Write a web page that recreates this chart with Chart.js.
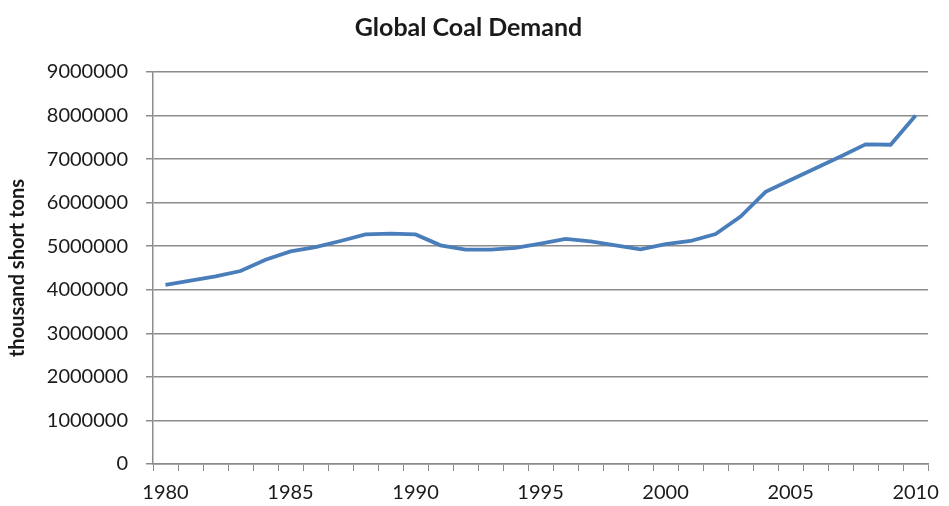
<!DOCTYPE html>
<html>
<head>
<meta charset="utf-8">
<script src="https://cdn.jsdelivr.net/npm/chart.js@4.4.0/dist/chart.umd.min.js"></script>
<style>
  html, body { margin: 0; padding: 0; background: #fff; }
  #wrap { width: 949px; height: 506px; }
</style>
</head>
<body>
<div id="wrap"><canvas id="coalChart"></canvas></div>
<script>
const years = [
  1980, 1981, 1982, 1983, 1984, 1985, 1986, 1987, 1988, 1989,
  1990, 1991, 1992, 1993, 1994, 1995, 1996, 1997, 1998, 1999,
  2000, 2001, 2002, 2003, 2004, 2005, 2006, 2007, 2008, 2009, 2010
];

// thousand short tons
const demand = [
  4110000, 4210000, 4310000, 4430000, 4690000, 4880000, 4980000, 5120000, 5270000, 5290000,
  5270000, 5020000, 4920000, 4920000, 4960000, 5060000, 5170000, 5110000, 5020000, 4930000,
  5050000, 5120000, 5280000, 5680000, 6250000, 6520000, 6790000, 7060000, 7340000, 7330000, 8000000
];

const yTicks = [0, 1000000, 2000000, 3000000, 4000000, 5000000, 6000000, 7000000, 8000000, 9000000];

const ctx = document.getElementById('coalChart').getContext('2d');

Chart.defaults.font.family = "Lato";
Chart.defaults.color = '#1a1a1a';

const coalChart = new Chart(ctx, {
  type: 'line',
  data: {
    labels: years,
    datasets: [{
      label: 'Global Coal Demand',
      data: demand,
      borderColor: '#4A7EBB',
      borderWidth: 3.8,
      fill: false,
      radius: 0,
      tension: 0
    }]
  },
  options: {
    responsive: true,
    maintainAspectRatio: false,
    animation: false,
    layout: {
      padding: { left: 0, right: 12, top: 0, bottom: 0 }
    },
    plugins: {
      legend: { display: false },
      tooltip: { enabled: false },
      title: {
        display: true,
        text: 'Global Coal Demand',
        color: '#1a1a1a',
        font: { size: 25, weight: 'bold' },
        padding: { top: 13, bottom: 29 }
      }
    },
    scales: {
      x: {
        type: 'category',
        offset: true,
        grid: {
          offset: true,
          drawOnChartArea: false,
          drawTicks: true,
          tickLength: 7,
          color: '#8c8c8c'
        },
        border: { color: '#8c8c8c', width: 1.5 },
        ticks: {
          autoSkip: false,
          maxRotation: 0,
          minRotation: 0,
          padding: 10,
          font: { size: 20 },
          callback: function (val, i) {
            return i % 5 === 0 ? String(years[i]) : '';
          }
        },
        afterFit: function (scale) { scale.height = 42; }
      },
      y: {
        min: 0,
        max: 9000000,
        afterBuildTicks: function (scale) {
          scale.ticks = yTicks.map(v => ({ value: v }));
        },
        grid: {
          color: '#8c8c8c',
          lineWidth: 1.5,
          drawTicks: true,
          tickLength: 7
        },
        border: { color: '#8c8c8c', width: 1.5 },
        ticks: {
          padding: 18,
          font: { size: 20 },
          callback: function (val) { return String(val); }
        },
        title: {
          display: true,
          text: 'thousand short tons',
          color: '#1a1a1a',
          font: { size: 20, weight: 'bold' },
          padding: { top: 6, bottom: 0 }
        },
        afterFit: function (scale) { scale.width = 153; }
      }
    }
  }
});
</script>
</body>
</html>
